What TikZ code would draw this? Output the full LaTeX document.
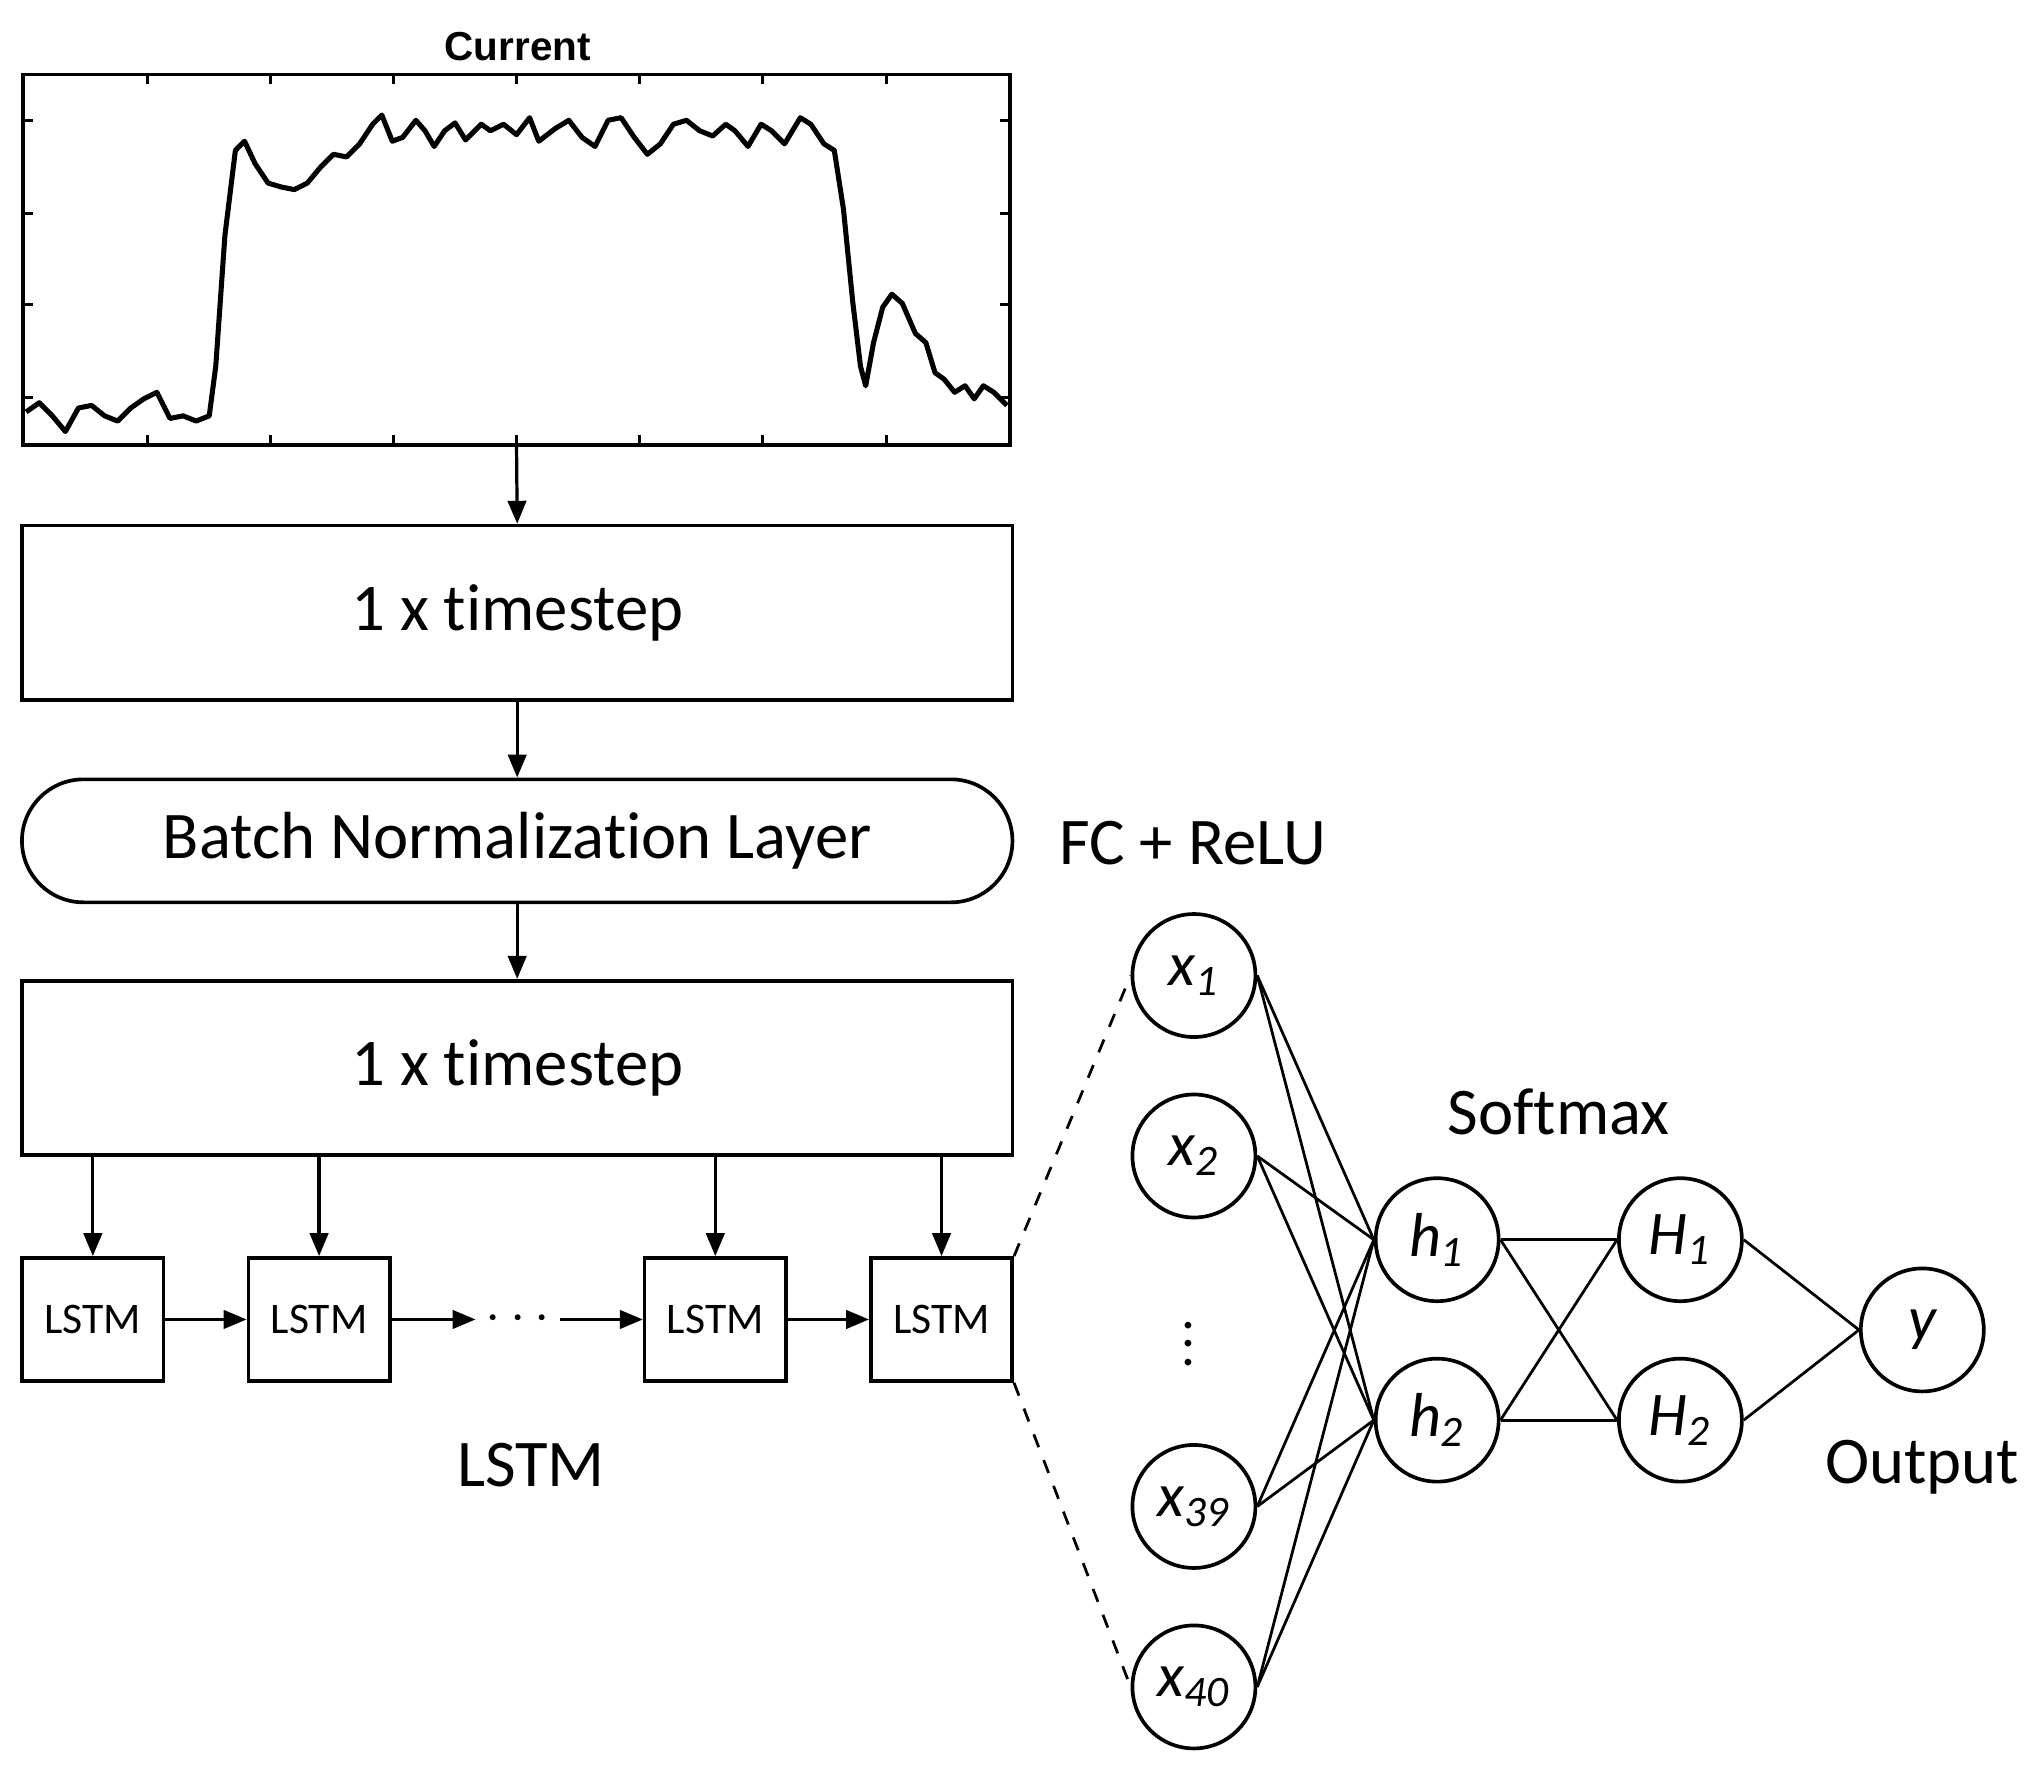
\documentclass[tikz,border=0pt]{standalone}
\usepackage{fontspec}
\setmainfont{Carlito}[Ligatures=NoCommon]
\newfontfamily\arialf{Liberation Sans}
\usetikzlibrary{arrows.meta}
\begin{document}
\begin{tikzpicture}[x=0.01cm,y=-0.01cm,
  box/.style={draw,line width=0.8pt,inner sep=0pt},
  big/.style={font=\fontsize{14.5}{16}\selectfont},
  small/.style={font=\fontsize{9.5}{10}\selectfont},
  neuron/.style={draw,circle,line width=0.8pt,minimum size=0.94cm,inner sep=0pt,font=\fontsize{13.5}{14}\selectfont\itshape},
  arr/.style={-{Triangle[length=5pt,width=4pt]},line width=0.7pt},
  ln/.style={line width=0.6pt}]
\useasboundingbox (0,0) rectangle (1560,1352);
% plot
\node[font=\arialf\bfseries\fontsize{8.8}{10}\selectfont] (title) at (396,36) {Current};
\node[box,minimum width=7.54cm,minimum height=2.83cm] (plot) at (395,198.5) {};
\foreach \t in {113,207,301,395,489,583,678}{
  \draw[line width=0.6pt] (\t,57) -- (\t,64); \draw[line width=0.6pt] (\t,340) -- (\t,333);}
\foreach \t in {92,163,233,304}{
  \draw[line width=0.6pt] (18,\t) -- (25,\t); \draw[line width=0.6pt] (772,\t) -- (765,\t);}
\draw[line width=1.1pt,line join=round] (20,315)--(30,308)--(40,318)--(50,330)--(60,312)--(70,310)--(80,318)--(90,322)--(100,312)--(110,305)--(120,300)--(130,320)--(140,318)--(150,322)--(160,318)--(165,280)--(172,180)--(180,115)--(187,108)--(195,125)--(205,140)--(215,143)--(225,145)--(235,140)--(245,128)--(255,118)--(265,120)--(275,110)--(285,95)--(292,88)--(300,108)--(308,105)--(318,92)--(325,100)--(332,112)--(340,100)--(348,94)--(356,107)--(368,95)--(375,100)--(385,95)--(395,103)--(405,90)--(412,108)--(425,98)--(435,92)--(445,105)--(455,112)--(465,92)--(475,90)--(485,105)--(495,118)--(505,110)--(515,95)--(525,92)--(535,100)--(545,104)--(555,95)--(562,100)--(572,112)--(582,95)--(590,100)--(600,110)--(612,90)--(620,95)--(630,110)--(638,115)--(645,160)--(652,230)--(658,280)--(662,295)--(668,262)--(675,235)--(682,225)--(690,232)--(700,255)--(708,262)--(715,285)--(722,290)--(730,300)--(738,295)--(745,305)--(752,295)--(760,300)--(770,310);
% boxes
\node[box,big,minimum width=7.57cm,minimum height=1.33cm] (ts1) at (395.5,468.5) {1 x timestep};
\node[box,big,rounded corners=0.47cm,minimum width=7.57cm,minimum height=0.94cm] (bn) at (395.5,643) {Batch Normalization Layer};
\node[box,big,minimum width=7.57cm,minimum height=1.33cm] (ts2) at (395.5,816.5) {1 x timestep};
\draw[arr] (plot.south) -- (ts1.north);
\draw[arr] (ts1.south) -- (bn.north);
\draw[arr] (bn.south) -- (ts2.north);
\node[big] (fc) at (912,645) {FC + ReLU};
% LSTMs
\foreach \n/\x in {a/71,b/244,c/547,d/720}{
  \node[box,small,minimum width=1.08cm,minimum height=0.94cm] (l\n) at (\x,1009) {LSTM};
  \draw[arr] (\x,883) -- (l\n.north);}
\node[font=\fontsize{12}{12}\selectfont,inner sep=2pt] (dots) at (396,1009) {$\cdots$};
\draw[arr] (la) -- (lb);
\draw[arr] (lb) -- (dots);
\draw[arr] (dots) -- (lc);
\draw[arr] (lc) -- (ld);
\node[big] (lstmlab) at (406,1120) {LSTM};
% network
\node[neuron] (x1) at (913,746) {x\textsubscript{1}};
\node[neuron] (x2) at (913,884) {x\textsubscript{2}};
\node[font=\fontsize{12}{12}\selectfont,inner sep=0pt] (vd) at (909,1017) {$\vdots$};
\node[neuron] (x39) at (913,1152) {x\textsubscript{39}};
\node[neuron] (x40) at (913,1290) {x\textsubscript{40}};
\node[neuron] (h1) at (1099,948) {h\textsubscript{1}};
\node[neuron] (h2) at (1099,1086) {h\textsubscript{2}};
\node[neuron] (H1) at (1285,948) {H\textsubscript{1}};
\node[neuron] (H2) at (1285,1086) {H\textsubscript{2}};
\node[neuron] (y) at (1470,1017) {y};
\node[big] (sm) at (1192,850) {Softmax};
\node[big] (out) at (1470,1122) {Output};
\draw[dashed,ln] (ld.north east) -- (x1.west);
\draw[dashed,ln] (ld.south east) -- (x40.west);
\foreach \a in {x1,x2,x39,x40}{\foreach \b in {h1,h2}{\draw[ln] (\a.east) -- (\b.west);}}
\foreach \a in {h1,h2}{\foreach \b in {H1,H2}{\draw[ln] (\a.east) -- (\b.west);}}
\draw[ln] (H1.east) -- (y.west); \draw[ln] (H2.east) -- (y.west);
\end{tikzpicture}
\end{document}
